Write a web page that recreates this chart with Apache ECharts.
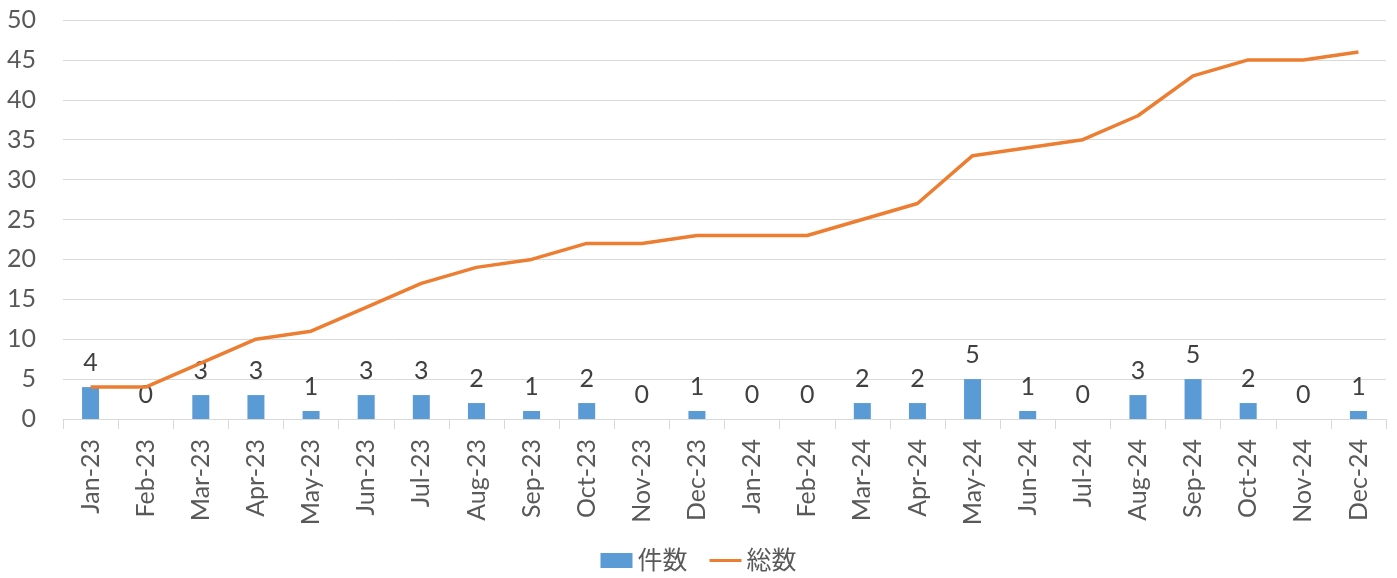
<!DOCTYPE html>
<html><head><meta charset="utf-8">
<script src="https://cdn.jsdelivr.net/npm/echarts@6/dist/echarts.min.js"></script>
<style>html,body{margin:0;padding:0;background:#fff}#c{width:1397px;height:578px}</style>
</head><body><div id="c"></div>
<script>
const categories = ['Jan-23','Feb-23','Mar-23','Apr-23','May-23','Jun-23','Jul-23','Aug-23','Sep-23','Oct-23','Nov-23','Dec-23','Jan-24','Feb-24','Mar-24','Apr-24','May-24','Jun-24','Jul-24','Aug-24','Sep-24','Oct-24','Nov-24','Dec-24'];
const counts = [4,0,3,3,1,3,3,2,1,2,0,1,0,0,2,2,5,1,0,3,5,2,0,1];
const totals = [4,4,7,10,11,14,17,19,20,22,22,23,23,23,25,27,33,34,35,38,43,45,45,46];
const yTicks = {min:0, max:50, interval:5};
const FONT = 'Lato, "Noto Sans CJK JP", sans-serif';
const chart = echarts.init(document.getElementById('c'), null, {renderer:'canvas'});
chart.setOption({
  animation:false,
  grid:{left:63, right:11, top:20, bottom:159, containLabel:false},
  legend:{bottom:0, left:'center', itemWidth:32, itemHeight:15, itemGap:22,
    textStyle:{fontSize:25, color:'#595959', fontFamily:FONT},
    data:[{name:'件数', icon:'rect'},{name:'総数', icon:'path://M0,6H32V9H0Z'}]},
  xAxis:{type:'category', data:categories, boundaryGap:true,
    axisLine:{lineStyle:{color:'#d9d9d9', width:1}},
    axisTick:{show:true, length:10, lineStyle:{color:'#d9d9d9'}},
    axisLabel:{rotate:90, fontSize:25, color:'#595959', fontFamily:FONT, margin:20, interval:0}},
  yAxis:{type:'value', min:yTicks.min, max:yTicks.max, interval:yTicks.interval,
    axisLine:{show:false}, axisTick:{show:false},
    splitLine:{lineStyle:{color:'#d9d9d9', width:1}},
    axisLabel:{fontSize:25, color:'#595959', fontFamily:FONT, margin:27}},
  series:[
    {name:'件数', type:'bar', data:counts, barWidth:17, itemStyle:{color:'#5B9BD5'},
      label:{show:true, position:'top', distance:12, fontSize:25, color:'#404040', fontFamily:FONT}},
    {name:'総数', type:'line', data:totals, symbol:'none', showSymbol:false,
      lineStyle:{color:'#ED7D31', width:3.5}, itemStyle:{color:'#ED7D31'}}
  ]
});
</script></body></html>
